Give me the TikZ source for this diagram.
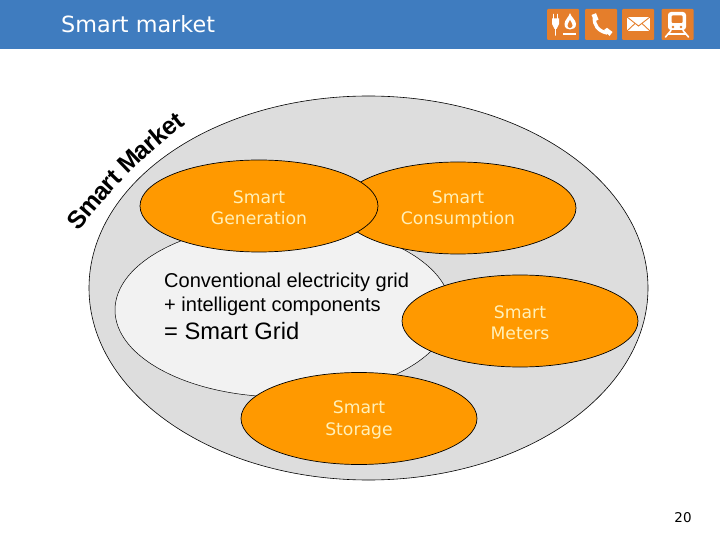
\documentclass[tikz,border=0pt]{standalone}
\usepackage{fontspec}
\setmainfont{DejaVu Sans}
\newfontfamily\arialf{Liberation Sans}
\newfontfamily\wafont[BoldFont={Liberation Sans Bold}]{Liberation Sans}
\newcommand\ovtext[2]{\rule{0pt}{16bp}#1\\#2}
\usetikzlibrary{shapes.geometric}
\definecolor{hdr}{HTML}{3F7CBF}
\definecolor{icon}{HTML}{E57E2B}
\definecolor{orangeE}{HTML}{FF9900}
\definecolor{cream}{HTML}{FFF0B8}
\definecolor{outerF}{HTML}{DDDDDD}
\definecolor{innerF}{HTML}{F2F2F2}
\tikzset{
 ov/.style={ellipse,draw=black,line width=0.7pt,inner sep=0pt,fill=orangeE,minimum width=236bp,minimum height=92bp,align=center,text=cream,font=\fontsize{17.3}{21.5}\selectfont},
 wa/.style={inner sep=0pt,text height=18bp,text depth=0pt,font=\wafont\bfseries\fontsize{25}{25}\selectfont,text=black},
 ic/.style={fill=icon,rounded corners=1bp,minimum width=32bp,minimum height=31bp,inner sep=0pt},
 gl/.style={draw=white,line width=1.6bp,line cap=round,line join=round},
 gf/.style={fill=white,draw=none},
 cut/.style={draw=icon,line width=0.9bp}
}
\begin{document}
\begin{tikzpicture}[x=1bp,y=-1bp]
\useasboundingbox (0,0) rectangle (720,540);
\fill[white] (0,0) rectangle (720,540);
\node[fill=hdr,minimum width=720bp,minimum height=49bp,inner sep=0pt,anchor=north west] (band) at (0,0) {};
\node[anchor=west,text=white,font=\fontsize{22.4}{22.4}\selectfont,inner sep=0pt] (title) at (61,24) {Smart market};
\node[ellipse,draw=black,line width=0.6pt,fill=outerF,minimum width=559bp,minimum height=384bp,inner sep=0pt] (outer) at (368.5,288) {};
\node[ellipse,draw=black,line width=0.5pt,fill=innerF,minimum width=336bp,minimum height=174bp,inner sep=0pt] (inner) at (283,310) {};
\node[ov] (cons) at (458,208) {\ovtext{Smart}{Consumption}};
\node[ov,minimum width=238bp] (gen) at (259,206) {\ovtext{Smart}{Generation}};
\node[ov] (meters) at (520,321) {\ovtext{Smart}{Meters}};
\node[ov] (storage) at (359,418.5) {\ovtext{Smart}{Storage}};
\node[anchor=west,inner sep=0pt,font=\arialf\fontsize{20.1}{20.1}\selectfont] (l1) at (164,282) {Conventional electricity grid};
\node[anchor=west,inner sep=0pt,font=\arialf\fontsize{20.1}{20.1}\selectfont] (l2) at (164,306) {+ intelligent components};
\node[anchor=west,inner sep=0pt,font=\arialf\fontsize{23.8}{23.8}\selectfont] (l3) at (164,331) {= Smart Grid};
\node[inner sep=0pt,font=\fontsize{13.5}{13.5}\selectfont] (page) at (683,518) {20};
% word art
\node[wa,rotate=50] (a1) at (77,219) {S};
\node[wa,rotate=49] (a2) at (88.7,204.2) {m};
\node[wa,rotate=48] (a3) at (100,190.9) {a};
\node[wa,rotate=47] (a4) at (107.7,182.4) {r};
\node[wa,rotate=46] (a5) at (113.6,176) {t};
\node[wa,rotate=44] (a6) at (128.3,161.2) {M};
\node[wa,rotate=42] (a7) at (140.5,150) {a};
\node[wa,rotate=41] (a8) at (149,142.4) {r};
\node[wa,rotate=40] (a9) at (157.9,134.9) {k};
\node[wa,rotate=39] (a10) at (168.4,126.5) {e};
\node[wa,rotate=38] (a11) at (177,120) {t};
% icons
\node[ic] (i1) at (563,24.5) {};
\node[ic] (i2) at (601,24.5) {};
\node[ic] (i3) at (638,24.5) {};
\node[ic] (i4) at (677.5,24.5) {};
% plug and flame
\draw[gl] (553.5,14.5) -- (553.5,19) (557.5,14.5) -- (557.5,19);
\fill[gf] (552,18.5) rectangle (559,24) (552,24) -- (559,24) -- (556.5,29) -- (554.5,29) -- cycle;
\draw[gl] (555.5,28) -- (555.5,35);
\fill[gf] (570,13) .. controls (571,17) and (576,20) .. (576,24) .. controls (576,28) and (573,29.5) .. (570,29.5) .. controls (567,29.5) and (564.5,28) .. (564.5,24) .. controls (564.5,20) and (569,17) .. (570,13) -- cycle;
\fill[icon] (570,20) .. controls (571,22) and (572.5,24) .. (572.5,25.5) .. controls (572.5,27) and (571,28) .. (570,28) .. controls (569,28) and (567.5,27) .. (567.5,25.5) .. controls (567.5,24) and (569,22) .. (570,20) -- cycle;
\draw[gl,line cap=butt] (563,34) -- (576,34);
% phone
\draw[gl,line width=3.4bp] (594.5,17) .. controls (593.5,25) and (598,31) .. (607,33);
\fill[gf] (591.5,15) -- (596,13.2) -- (598.5,19.5) -- (594.5,21.5) -- cycle;
\fill[gf] (604,30) -- (607,27.8) -- (612.5,32) -- (609.5,36) -- cycle;
% envelope
\fill[gf] (627,17) rectangle (650,31);
\draw[cut] (627,17) -- (638.5,26) -- (650,17) (627,31) -- (635,23.5) (650,31) -- (642,23.5);
% train
\fill[gf,rounded corners=3bp] (668,12) rectangle (686,30);
\fill[icon,rounded corners=1bp] (671.5,15.5) rectangle (682.5,23);
\fill[icon] (673,27) circle (1.3) (681,27) circle (1.3);
\draw[gl] (671,30.5) -- (665.5,37) (683,30.5) -- (688.5,37) (668,34) -- (686,34);
\end{tikzpicture}
\end{document}
